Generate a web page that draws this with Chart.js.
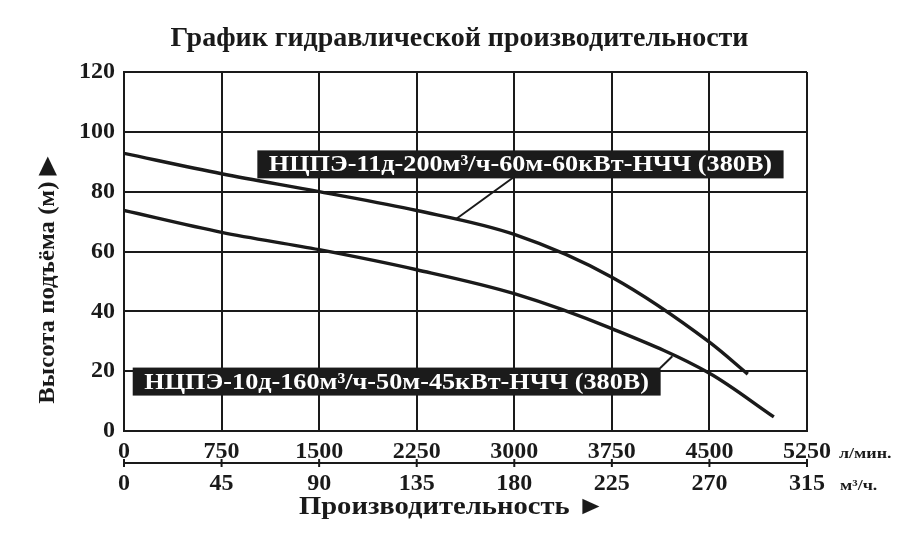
<!DOCTYPE html>
<html>
<head>
<meta charset="utf-8">
<script src="https://cdn.jsdelivr.net/npm/chart.js@4.4.1/dist/chart.umd.min.js"></script>
<style>
html,body{margin:0;padding:0;background:#fff;}
#wrap{width:919px;height:551px;}
</style>
</head>
<body>
<div id="wrap"><canvas id="c" width="919" height="551"></canvas></div>
<script>
// ---- data ----
const chartTitle = 'График гидравлической производительности';
const yTitle = 'Высота подъёма (м) ▶';
const xTitle = 'Производительность ►';
const unitLmin = 'л/мин.';
const unitM3h = 'м³/ч.';
const seriesNames = ['НЦПЭ-11д-200м³/ч-60м-60кВт-НЧЧ (380В)', 'НЦПЭ-10д-160м³/ч-50м-45кВт-НЧЧ (380В)'];
const flow11 = [0, 750, 1500, 2250, 3000, 3750, 4500, 4795];
const head11 = [92.8, 86, 80, 73.7, 65.7, 51.4, 29.7, 19];
const flow10 = [0, 750, 1500, 2250, 3000, 3750, 4500, 4995];
const head10 = [73.7, 66.4, 60.6, 53.9, 45.9, 34.2, 19.3, 4.7];
const xTicksLmin = [0, 750, 1500, 2250, 3000, 3750, 4500, 5250];
const xTicksM3h = [0, 45, 90, 135, 180, 225, 270, 315];
const yTicks = [0, 20, 40, 60, 80, 100, 120];

const SERIF = '"Liberation Serif", "DejaVu Serif", serif';
const INK = '#1a1a1a';

function pts(xs, ys){ return xs.map((x,i)=>({x:x, y:ys[i]})); }

function stretchText(ctx, text, x, y, font, sx, align, rot){
  ctx.save();
  ctx.translate(x, y);
  if (rot) ctx.rotate(rot);
  ctx.scale(sx, 1);
  ctx.font = font;
  ctx.textAlign = align || 'center';
  ctx.textBaseline = 'middle';
  ctx.fillText(text, 0, 0);
  ctx.restore();
}

const overlay = {
  id: 'overlay',
  afterDraw(chart){
    const ctx = chart.ctx;
    const xs = chart.scales.x, x2 = chart.scales.x2, ys = chart.scales.y;
    ctx.save();
    // second axis line with ticks
    const yl = 463;
    ctx.strokeStyle = INK; ctx.lineWidth = 2;
    ctx.beginPath();
    ctx.moveTo(x2.getPixelForValue(xTicksM3h[0]), yl);
    ctx.lineTo(x2.getPixelForValue(xTicksM3h[xTicksM3h.length-1]), yl);
    ctx.stroke();
    xTicksM3h.forEach(v=>{
      const px = x2.getPixelForValue(v);
      ctx.beginPath(); ctx.moveTo(px, yl-4); ctx.lineTo(px, yl+4); ctx.stroke();
    });
    // units
    ctx.fillStyle = INK;
    stretchText(ctx, unitLmin, 839, 454, 'bold 15px ' + SERIF, 1.2, 'left');
    stretchText(ctx, unitM3h, 840, 486, 'bold 15px ' + SERIF, 1.2, 'left');
    // x title
    stretchText(ctx, xTitle, 452, 507, 'bold 26px ' + SERIF, 1.1, 'center');
    // y title
    stretchText(ctx, yTitle, 48, 280, 'bold 24px ' + SERIF, 1.03, 'center', -Math.PI/2);
    // leader lines
    ctx.lineWidth = 2;
    ctx.beginPath();
    ctx.moveTo(xs.getPixelForValue(3000), ys.getPixelForValue(85));
    ctx.lineTo(xs.getPixelForValue(2550), ys.getPixelForValue(70.8));
    ctx.stroke();
    ctx.beginPath();
    ctx.moveTo(xs.getPixelForValue(4120), ys.getPixelForValue(21));
    ctx.lineTo(xs.getPixelForValue(4215), ys.getPixelForValue(25));
    ctx.stroke();
    // label boxes
    const boxes = [
      {name: seriesNames[0], x0: 1025, x1: 5070, yTop: 93.8},
      {name: seriesNames[1], x0: 67, x1: 4125, yTop: 21.2}
    ];
    boxes.forEach(b=>{
      const l = xs.getPixelForValue(b.x0), r = xs.getPixelForValue(b.x1);
      const t = ys.getPixelForValue(b.yTop);
      const h = 28;
      ctx.fillStyle = '#1b1b1b';
      ctx.fillRect(l, t, r-l, h);
      ctx.fillStyle = '#fff';
      stretchText(ctx, b.name, (l+r)/2, t + h/2 + 1, 'bold 23px ' + SERIF, 1.14, 'center');
    });
    ctx.restore();
  }
};

const tickFont = {family: SERIF, size: 24, weight: 'bold'};
const plain = v => String(v);

new Chart(document.getElementById('c'), {
  type: 'line',
  data: {
    datasets: [
      {label: seriesNames[0], data: pts(flow11, head11), borderColor: INK, borderWidth: 3.4, pointRadius: 0, fill: false, cubicInterpolationMode: 'monotone'},
      {label: seriesNames[1], data: pts(flow10, head10), borderColor: INK, borderWidth: 3.4, pointRadius: 0, fill: false, cubicInterpolationMode: 'monotone'}
    ]
  },
  options: {
    responsive: false,
    animation: false,
    events: [],
    layout: {padding: {left: 0, right: 0, top: 0, bottom: 0}},
    plugins: {
      legend: {display: false},
      tooltip: {enabled: false},
      title: {
        display: true, text: chartTitle, color: INK,
        font: {family: SERIF, size: 28, weight: 'bold', lineHeight: 1.2},
        padding: {top: 22, bottom: 16.4}
      }
    },
    scales: {
      x: {
        type: 'linear', position: 'bottom', min: 0, max: 5250,
        afterBuildTicks: s => { s.ticks = xTicksLmin.map(v=>({value:v})); },
        afterFit: s => { s.height = 30; },
        grid: {color: INK, lineWidth: 2, drawTicks: false},
        border: {display: true, color: INK, width: 2},
        ticks: {color: INK, font: tickFont, padding: 6, maxRotation: 0, autoSkip: false, callback: plain}
      },
      x2: {
        type: 'linear', position: 'bottom', min: 0, max: 315,
        afterBuildTicks: s => { s.ticks = xTicksM3h.map(v=>({value:v})); },
        afterFit: s => { s.height = 90; },
        grid: {display: false, drawTicks: false},
        border: {display: false},
        ticks: {color: INK, font: tickFont, padding: 8, maxRotation: 0, autoSkip: false, callback: plain}
      },
      y: {
        type: 'linear', position: 'left', min: 0, max: 120,
        afterBuildTicks: s => { s.ticks = yTicks.map(v=>({value:v})); },
        afterFit: s => { s.width = 124; },
        grid: {color: INK, lineWidth: 2, drawTicks: false},
        border: {display: true, color: INK, width: 2},
        ticks: {color: INK, font: tickFont, padding: 9, callback: plain}
      },
      yr: {
        type: 'linear', position: 'right', min: 0, max: 120,
        afterFit: s => { s.width = 112; },
        grid: {display: false, drawTicks: false},
        border: {display: false},
        ticks: {display: false}
      }
    }
  },
  plugins: [overlay]
});
</script>
</body>
</html>
